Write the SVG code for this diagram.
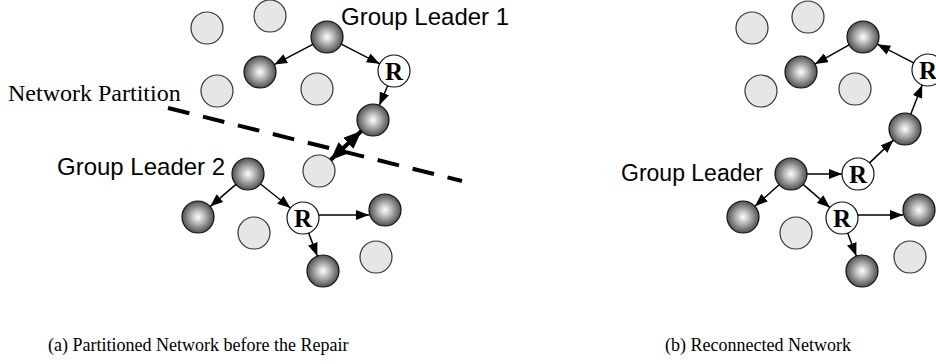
<svg xmlns="http://www.w3.org/2000/svg" width="936" height="364" viewBox="0 0 936 364">
  <defs>
    <radialGradient id="ball" cx="50%" cy="50%" r="50%">
      <stop offset="0" stop-color="#ffffff"/>
      <stop offset="0.35" stop-color="#c4c4c4"/>
      <stop offset="1" stop-color="#505050"/>
    </radialGradient>
    <marker id="head" markerWidth="13" markerHeight="10" refX="13" refY="5" orient="auto" markerUnits="userSpaceOnUse">
      <path d="M0,0 L13,5 L0,10 z" fill="#000"/>
    </marker>
    <marker id="bighead" markerWidth="18" markerHeight="15" refX="18" refY="7.5" orient="auto-start-reverse" markerUnits="userSpaceOnUse">
      <path d="M0,0 L18,7.5 L0,15 z" fill="#000"/>
    </marker>
  </defs>
  <style>
    .idle { fill: #e6e6e6; stroke: #333; stroke-width: 1.2; }
    .member { fill: url(#ball); stroke: #111; stroke-width: 1.2; }
    .relay { fill: #fff; stroke: #111; stroke-width: 1.2; }
    .rlabel { font-family: "Liberation Serif", serif; font-weight: bold; font-size: 25px; text-anchor: middle; }
    .label { font-family: "Liberation Sans", Arial, sans-serif; font-size: 24px; fill: #000; }
    .serif { font-family: "Liberation Serif", serif; font-size: 24px; fill: #000; }
    .caption { font-family: "Liberation Serif", serif; font-size: 18px; fill: #000; }
    .link { stroke: #000; stroke-width: 1.5; fill: none; marker-end: url(#head); }
    .bridge { stroke: #000; stroke-width: 4; fill: none; marker-start: url(#bighead); marker-end: url(#bighead); }
    .cut { stroke: #000; stroke-width: 4; stroke-dasharray: 22 14; fill: none; }
  </style>

  <!-- (a) partitioned network -->
  <g id="idle-a">
    <circle class="idle" cx="207" cy="28" r="16"/>
    <circle class="idle" cx="270" cy="16" r="16"/>
    <circle class="idle" cx="217" cy="91" r="16"/>
    <circle class="idle" cx="317" cy="89" r="16"/>
    <circle class="idle" cx="319" cy="171" r="16"/>
    <circle class="idle" cx="254" cy="233" r="16"/>
    <circle class="idle" cx="376" cy="257" r="16"/>
  </g>
  <g id="leader1"><circle class="member" cx="327" cy="37" r="16"/></g>
  <g id="a-m1"><circle class="member" cx="260" cy="72" r="16"/></g>
  <g id="a-r1"><circle class="relay" cx="394" cy="71" r="16"/><text class="rlabel" x="394" y="80">R</text></g>
  <g id="a-m2"><circle class="member" cx="373" cy="120" r="16"/></g>
  <g id="leader2"><circle class="member" cx="248" cy="174" r="16"/></g>
  <g id="a-m3"><circle class="member" cx="198" cy="217" r="16"/></g>
  <g id="a-r2"><circle class="relay" cx="303" cy="218" r="16"/><text class="rlabel" x="303" y="227">R</text></g>
  <g id="a-m4"><circle class="member" cx="385" cy="210" r="16"/></g>
  <g id="a-m5"><circle class="member" cx="323" cy="271" r="16"/></g>

  <!-- (b) reconnected network -->
  <g id="idle-b">
    <circle class="idle" cx="752" cy="28" r="16"/>
    <circle class="idle" cx="808" cy="17" r="16"/>
    <circle class="idle" cx="761" cy="91" r="16"/>
    <circle class="idle" cx="855" cy="89" r="16"/>
    <circle class="idle" cx="796" cy="233" r="16"/>
    <circle class="idle" cx="910" cy="257" r="16"/>
  </g>
  <g id="b-m1"><circle class="member" cx="863" cy="37" r="16"/></g>
  <g id="b-m2"><circle class="member" cx="801" cy="72" r="16"/></g>
  <g id="b-r1"><circle class="relay" cx="928" cy="70" r="16"/><text class="rlabel" x="928" y="79">R</text></g>
  <g id="b-m3"><circle class="member" cx="905" cy="129" r="16"/></g>
  <g id="leader"><circle class="member" cx="791" cy="174" r="16"/></g>
  <g id="b-r2"><circle class="relay" cx="858" cy="174" r="16"/><text class="rlabel" x="858" y="183">R</text></g>
  <g id="b-m4"><circle class="member" cx="743" cy="217" r="16"/></g>
  <g id="b-r3"><circle class="relay" cx="842" cy="218" r="16"/><text class="rlabel" x="842" y="227">R</text></g>
  <g id="b-m5"><circle class="member" cx="919" cy="210" r="16"/></g>
  <g id="b-m6"><circle class="member" cx="862" cy="271" r="16"/></g>

  <g id="connectors">
    <line class="cut" x1="168" y1="108" x2="462" y2="181"/>
    <line class="link" x1="312.8" y1="44.4" x2="274.2" y2="64.6"/>
    <line class="link" x1="341.3" y1="44.2" x2="379.7" y2="63.8"/>
    <line class="link" x1="387.7" y1="85.7" x2="379.3" y2="105.3"/>
    <line class="bridge" x1="361.4" y1="131" x2="330.6" y2="160"/>
    <line class="link" x1="235.9" y1="184.4" x2="210.1" y2="206.6"/>
    <line class="link" x1="260.5" y1="184" x2="290.5" y2="208"/>
    <line class="link" x1="319" y1="215" x2="369" y2="215"/>
    <line class="link" x1="308.7" y1="233" x2="317.3" y2="256"/>

    <line class="link" x1="849.1" y1="44.9" x2="814.9" y2="64.1"/>
    <line class="link" x1="913.7" y1="62.8" x2="877.3" y2="44.2"/>
    <line class="link" x1="910.8" y1="114.1" x2="922.2" y2="84.9"/>
    <line class="link" x1="869.6" y1="162.9" x2="893.4" y2="140.1"/>
    <line class="link" x1="807" y1="174" x2="842" y2="174"/>
    <line class="link" x1="779.1" y1="184.7" x2="754.9" y2="206.3"/>
    <line class="link" x1="803.1" y1="184.4" x2="829.9" y2="207.6"/>
    <line class="link" x1="858" y1="215" x2="903" y2="215"/>
    <line class="link" x1="847.7" y1="233" x2="856.3" y2="256"/>
  </g>

  <g id="labels">
    <text class="label" x="341" y="25">Group Leader 1</text>
    <text class="label" x="57" y="175">Group Leader 2</text>
    <text class="label" x="621" y="181" style="font-size:23px">Group Leader</text>
    <text class="serif" x="8" y="101">Network Partition</text>
    <text class="caption" x="48" y="351">(a) Partitioned Network before the Repair</text>
    <text class="caption" x="665" y="351">(b) Reconnected Network</text>
  </g>
</svg>
